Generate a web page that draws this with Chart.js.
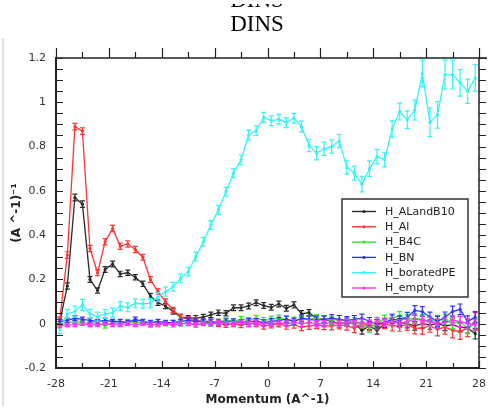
<!DOCTYPE html>
<html>
<head>
<meta charset="utf-8">
<title>DINS</title>
<script src="https://cdn.jsdelivr.net/npm/chart.js@4.4.1/dist/chart.umd.min.js"></script>
<style>
  html, body { margin: 0; padding: 0; background: #fff; }
  #wrap { width: 500px; height: 418px; }
</style>
</head>
<body>
<div id="wrap"><canvas id="dinsChart" width="500" height="418"></canvas></div>
<script>
// =============================================================================
// DATA
// =============================================================================
const momentum = [
  -27.5, -26.5, -25.5, -24.5, -23.5, -22.5, -21.5, -20.5, -19.5, -18.5,
  -17.5, -16.5, -15.5, -14.5, -13.5, -12.5, -11.5, -10.5, -9.5, -8.5,
  -7.5, -6.5, -5.5, -4.5, -3.5, -2.5, -1.5, -0.5, 0.5, 1.5,
  2.5, 3.5, 4.5, 5.5, 6.5, 7.5, 8.5, 9.5, 10.5, 11.5,
  12.5, 13.5, 14.5, 15.5, 16.5, 17.5, 18.5, 19.5, 20.5, 21.5,
  22.5, 23.5, 24.5, 25.5, 26.5, 27.5
];

const hALandB10 = [
  0.01, 0.17, 0.57, 0.54, 0.20, 0.15, 0.245, 0.27, 0.225, 0.23,
  0.21, 0.18, 0.125, 0.095, 0.08, 0.055, 0.03, 0.025, 0.025, 0.03,
  0.04, 0.05, 0.047, 0.072, 0.072, 0.08, 0.095, 0.082, 0.074, 0.089,
  0.07, 0.085, 0.045, 0.05, 0.024, 0.02, 0.01, 0.0, 0.005, 0.0,
  -0.03, -0.01, -0.03, 0.0, 0.01, 0.005, 0.0, -0.01, 0.0, -0.005,
  0.0, -0.01, -0.005, -0.015, -0.02, -0.045
];
const hALandB10Err = [
  0.01, 0.014, 0.015, 0.015, 0.013, 0.012, 0.013, 0.013, 0.012, 0.012,
  0.012, 0.012, 0.012, 0.012, 0.012, 0.012, 0.012, 0.012, 0.012, 0.012,
  0.012, 0.012, 0.012, 0.013, 0.013, 0.013, 0.013, 0.013, 0.013, 0.013,
  0.013, 0.014, 0.014, 0.014, 0.015, 0.015, 0.015, 0.016, 0.016, 0.016,
  0.017, 0.017, 0.017, 0.018, 0.018, 0.018, 0.019, 0.019, 0.02, 0.02,
  0.02, 0.021, 0.021, 0.022, 0.022, 0.024
];

const hAl = [
  0.02, 0.31, 0.89, 0.87, 0.34, 0.23, 0.37, 0.43, 0.35, 0.36,
  0.335, 0.30, 0.20, 0.145, 0.10, 0.062, 0.03, 0.02, 0.015, 0.01,
  0.005, 0.0, -0.005, 0.0, -0.005, 0.0, 0.0, -0.01, -0.005, 0.0,
  -0.01, -0.005, -0.015, -0.01, -0.005, -0.01, -0.01, -0.005, -0.01, -0.02,
  0.0, -0.01, -0.005, 0.0, -0.01, -0.01, -0.005, -0.02, -0.02, -0.01,
  -0.025, -0.015, -0.03, -0.035, -0.02, 0.01
];
const hAlErr = [
  0.01, 0.015, 0.015, 0.015, 0.014, 0.013, 0.014, 0.014, 0.014, 0.014,
  0.014, 0.013, 0.013, 0.012, 0.012, 0.012, 0.012, 0.012, 0.012, 0.012,
  0.012, 0.012, 0.012, 0.013, 0.013, 0.013, 0.013, 0.014, 0.014, 0.014,
  0.015, 0.015, 0.016, 0.016, 0.017, 0.017, 0.018, 0.018, 0.019, 0.02,
  0.02, 0.021, 0.022, 0.022, 0.023, 0.024, 0.025, 0.026, 0.027, 0.028,
  0.03, 0.032, 0.034, 0.036, 0.038, 0.04
];

const hB4C = [
  0.0, 0.005, 0.01, 0.005, 0.0, 0.005, -0.01, 0.005, 0.0, 0.01,
  0.005, 0.005, -0.005, 0.0, 0.0, 0.005, 0.0, 0.005, -0.005, 0.005,
  0.0, 0.01, 0.015, 0.01, 0.02, 0.015, 0.025, 0.015, 0.02, 0.025,
  0.02, 0.015, 0.02, 0.02, 0.025, 0.02, 0.015, 0.02, 0.01, 0.01,
  0.0, -0.02, 0.01, 0.02, 0.025, 0.035, 0.02, 0.025, 0.02, 0.01,
  0.015, 0.02, 0.0, 0.01, -0.02, 0.0
];
const hB4CErr = [
  0.01, 0.01, 0.01, 0.01, 0.01, 0.01, 0.01, 0.01, 0.01, 0.01,
  0.01, 0.01, 0.01, 0.01, 0.01, 0.01, 0.011, 0.011, 0.011, 0.011,
  0.012, 0.012, 0.012, 0.012, 0.013, 0.013, 0.013, 0.013, 0.014, 0.014,
  0.014, 0.015, 0.015, 0.015, 0.016, 0.016, 0.016, 0.017, 0.017, 0.017,
  0.018, 0.018, 0.019, 0.019, 0.02, 0.02, 0.021, 0.021, 0.022, 0.022,
  0.023, 0.023, 0.024, 0.024, 0.025, 0.025
];

const hBN = [
  0.01, 0.015, 0.025, 0.02, 0.015, 0.01, 0.015, 0.01, 0.01, 0.005,
  0.02, 0.01, 0.005, 0.01, 0.005, 0.005, 0.01, 0.015, 0.01, 0.01,
  0.01, 0.005, 0.01, 0.01, 0.005, 0.01, 0.01, 0.005, 0.01, 0.015,
  0.02, 0.01, 0.025, 0.02, 0.015, 0.02, 0.025, 0.02, 0.015, 0.02,
  0.025, 0.01, 0.0, 0.005, 0.02, 0.015, 0.03, 0.06, 0.055, 0.03,
  0.01, 0.03, 0.055, 0.065, 0.01, 0.03
];
const hBNErr = [
  0.01, 0.01, 0.01, 0.01, 0.01, 0.01, 0.01, 0.01, 0.01, 0.01,
  0.01, 0.01, 0.01, 0.01, 0.01, 0.01, 0.011, 0.011, 0.011, 0.011,
  0.012, 0.012, 0.012, 0.012, 0.013, 0.013, 0.013, 0.013, 0.014, 0.014,
  0.014, 0.015, 0.015, 0.015, 0.016, 0.016, 0.016, 0.017, 0.017, 0.017,
  0.018, 0.018, 0.019, 0.019, 0.02, 0.02, 0.021, 0.022, 0.022, 0.022,
  0.023, 0.023, 0.024, 0.024, 0.025, 0.025
];

const hBoratedPE = [
  -0.025, 0.045, 0.055, 0.085, 0.045, 0.032, 0.044, 0.05, 0.08, 0.074,
  0.092, 0.09, 0.093, 0.12, 0.145, 0.167, 0.205, 0.235, 0.303, 0.37,
  0.446, 0.514, 0.596, 0.68, 0.74, 0.852, 0.872, 0.932, 0.917, 0.923,
  0.908, 0.928, 0.89, 0.805, 0.77, 0.79, 0.8, 0.825, 0.706, 0.68,
  0.63, 0.70, 0.755, 0.74, 0.88, 0.958, 0.921, 0.965, 1.13, 0.91,
  0.943, 1.125, 1.125, 1.088, 1.05, 1.11
];
const hBoratedPEErr = [
  0.02, 0.02, 0.025, 0.025, 0.02, 0.02, 0.02, 0.02, 0.02, 0.02,
  0.02, 0.02, 0.02, 0.02, 0.02, 0.02, 0.02, 0.02, 0.02, 0.02,
  0.02, 0.02, 0.02, 0.02, 0.022, 0.022, 0.022, 0.022, 0.022, 0.022,
  0.022, 0.022, 0.025, 0.028, 0.03, 0.03, 0.03, 0.03, 0.03, 0.032,
  0.035, 0.035, 0.032, 0.032, 0.036, 0.038, 0.04, 0.045, 0.06, 0.065,
  0.06, 0.065, 0.065, 0.06, 0.055, 0.06
];

const hEmpty = [
  -0.01, -0.005, -0.005, 0.0, -0.005, -0.005, 0.0, -0.005, -0.005, 0.0,
  -0.005, 0.0, -0.005, -0.005, 0.0, -0.005, 0.0, 0.0, -0.005, 0.0,
  0.0, 0.005, 0.0, 0.0, 0.005, 0.0, 0.005, 0.0, 0.0, 0.005,
  0.0, 0.005, 0.0, 0.005, 0.0, 0.0, 0.005, 0.0, 0.005, 0.0,
  0.005, 0.0, 0.01, 0.005, 0.01, 0.0, 0.01, 0.02, 0.015, 0.01,
  0.0, 0.005, 0.015, 0.01, 0.0, -0.005
];
const hEmptyErr = [
  0.008, 0.008, 0.008, 0.008, 0.008, 0.008, 0.008, 0.008, 0.008, 0.008,
  0.008, 0.008, 0.008, 0.008, 0.008, 0.009, 0.009, 0.009, 0.009, 0.009,
  0.01, 0.01, 0.01, 0.01, 0.011, 0.011, 0.011, 0.011, 0.012, 0.012,
  0.012, 0.013, 0.013, 0.013, 0.014, 0.014, 0.014, 0.015, 0.015, 0.015,
  0.016, 0.016, 0.017, 0.017, 0.018, 0.018, 0.019, 0.019, 0.02, 0.02,
  0.021, 0.021, 0.022, 0.022, 0.023, 0.023
];

const seriesNames = ["H_ALandB10", "H_Al", "H_B4C", "H_BN", "H_boratedPE", "H_empty"];
const seriesValues = [hALandB10, hAl, hB4C, hBN, hBoratedPE, hEmpty];
const seriesErrors = [hALandB10Err, hAlErr, hB4CErr, hBNErr, hBoratedPEErr, hEmptyErr];

// =============================================================================
// STYLE
// =============================================================================
const seriesColors = ["#2b2b2b", "#ff3333", "#33e633", "#3333ff", "#33f5f5", "#ff33ff"];
const TICK_FONT = { family: "'DejaVu Sans', Verdana, sans-serif", size: 11 };
const AXIS_COLOR = "#222222";

// =============================================================================
// PLUGIN: error bars
// =============================================================================
const errorBars = {
  id: "errorBars",
  afterDatasetDraw(chart, args) {
    const ds = chart.data.datasets[args.index];
    const yScale = chart.scales.y;
    const area = chart.chartArea;
    const ctx = chart.ctx;
    ctx.save();
    ctx.beginPath();
    ctx.rect(area.left, area.top, area.right - area.left, area.bottom - area.top);
    ctx.clip();
    ctx.strokeStyle = ds.borderColor;
    ctx.lineWidth = 1.2;
    args.meta.data.forEach((pt, i) => {
      const v = ds.data[i].y;
      const e = ds.errors[i];
      const yTop = yScale.getPixelForValue(v + e);
      const yBot = yScale.getPixelForValue(v - e);
      ctx.beginPath();
      ctx.moveTo(pt.x, yTop);
      ctx.lineTo(pt.x, yBot);
      ctx.moveTo(pt.x - 2.5, yTop);
      ctx.lineTo(pt.x + 2.5, yTop);
      ctx.moveTo(pt.x - 2.5, yBot);
      ctx.lineTo(pt.x + 2.5, yBot);
      ctx.stroke();
    });
    ctx.restore();
  }
};

// =============================================================================
// PLUGIN: frame, ticks, title, legend
// =============================================================================
const frameDecor = {
  id: "frameDecor",
  afterDraw(chart) {
    const ctx = chart.ctx;
    const a = chart.chartArea;
    const xs = chart.scales.x;
    const ys = chart.scales.y;
    ctx.save();

    // outer light frame on the left
    ctx.strokeStyle = "#d4d4d4";
    ctx.lineWidth = 1.5;
    ctx.beginPath();
    ctx.moveTo(3, 38);
    ctx.lineTo(3, 406);
    ctx.stroke();

    // title
    ctx.fillStyle = "#000";
    ctx.font = "23px 'Liberation Serif', 'Times New Roman', serif";
    ctx.textAlign = "center";
    ctx.textBaseline = "alphabetic";
    ctx.fillText("DINS", 257, 31);
    // only the bottom sliver of the copy above remains visible
    ctx.save();
    ctx.beginPath();
    ctx.rect(0, 4, 500, 4);
    ctx.clip();
    ctx.fillText("DINS", 257, 7);
    ctx.restore();

    // top and right borders
    ctx.strokeStyle = AXIS_COLOR;
    ctx.lineWidth = 1.5;
    ctx.beginPath();
    ctx.moveTo(a.left, a.top);
    ctx.lineTo(a.right + 8, a.top);
    ctx.moveTo(a.right, a.top);
    ctx.lineTo(a.right, a.bottom);
    ctx.stroke();

    // y ticks: inside on the left, outside on the right
    ctx.lineWidth = 1.2;
    ctx.beginPath();
    for (let v = ys.min; v <= ys.max + 1e-9; v += 0.05) {
      const py = Math.round(ys.getPixelForValue(v)) + 0.5;
      ctx.moveTo(a.left, py);
      ctx.lineTo(a.left + 7, py);
      ctx.moveTo(a.right, py);
      ctx.lineTo(a.right + 7, py);
    }
    // x ticks: outside on top, inside at the bottom
    for (let v = xs.min; v <= xs.max + 1e-9; v += 3.5) {
      const major = Math.abs(v / 7 - Math.round(v / 7)) < 1e-6;
      const px = Math.round(xs.getPixelForValue(v)) + 0.5;
      ctx.moveTo(px, a.top);
      ctx.lineTo(px, a.top - (major ? 10 : 6));
      ctx.moveTo(px, a.bottom);
      ctx.lineTo(px, a.bottom - (major ? 7 : 5));
    }
    ctx.stroke();

    // legend box
    const lx = 342, ly = 199, lw = 126, lh = 98;
    ctx.fillStyle = "#fff";
    ctx.fillRect(lx, ly, lw, lh);
    ctx.strokeStyle = "#333";
    ctx.lineWidth = 1.5;
    ctx.strokeRect(lx, ly, lw, lh);
    ctx.font = "11px 'DejaVu Sans', Verdana, sans-serif";
    ctx.textAlign = "left";
    ctx.textBaseline = "middle";
    chart.data.datasets.forEach((ds, i) => {
      const rowY = ly + 12.5 + i * 15.3;
      ctx.strokeStyle = ds.borderColor;
      ctx.lineWidth = 1.4;
      ctx.beginPath();
      ctx.moveTo(lx + 10, rowY);
      ctx.lineTo(lx + 34, rowY);
      ctx.stroke();
      ctx.fillStyle = ds.borderColor;
      ctx.beginPath();
      ctx.arc(lx + 22, rowY, 1.6, 0, Math.PI * 2);
      ctx.fill();
      ctx.fillStyle = "#222";
      ctx.fillText(ds.label, lx + 43, rowY + 0.5);
    });

    ctx.restore();
  }
};

// =============================================================================
// CHART
// =============================================================================
const datasets = seriesNames.map((name, s) => ({
  label: name,
  data: momentum.map((m, i) => ({ x: m, y: seriesValues[s][i] })),
  errors: seriesErrors[s],
  borderColor: seriesColors[s],
  backgroundColor: seriesColors[s],
  borderWidth: 1.3,
  pointRadius: 1.6,
  pointBorderWidth: 0,
  tension: 0,
  fill: false,
  order: 6 - s
}));

new Chart(document.getElementById("dinsChart").getContext("2d"), {
  type: "line",
  data: { datasets },
  options: {
    responsive: false,
    animation: false,
    layout: { padding: { top: 58, right: 21, left: 0, bottom: 0 } },
    plugins: {
      legend: { display: false },
      tooltip: { enabled: false },
      title: { display: false }
    },
    scales: {
      x: {
        type: "linear",
        min: -28,
        max: 28,
        afterFit(scale) { scale.height = 50; },
        ticks: {
          stepSize: 7,
          color: "#333",
          font: TICK_FONT,
          padding: 10,
          maxRotation: 0,
          callback: v => String(v)
        },
        grid: { display: false, drawTicks: false },
        border: { display: true, color: AXIS_COLOR, width: 2 },
        title: {
          display: true,
          text: "Momentum (A^-1)",
          color: "#222",
          font: { family: "'DejaVu Sans', Verdana, sans-serif", size: 12, weight: "bold" },
          padding: { top: 2, bottom: 11 }
        }
      },
      y: {
        type: "linear",
        min: -0.2,
        max: 1.2,
        afterFit(scale) { scale.width = 56; },
        ticks: {
          stepSize: 0.2,
          color: "#333",
          font: TICK_FONT,
          padding: 10,
          callback: v => String(Math.round(v * 100) / 100)
        },
        grid: { display: false, drawTicks: false },
        border: { display: true, color: AXIS_COLOR, width: 2 },
        title: {
          display: true,
          text: "(A ^-1)\u207B\u00B9",
          color: "#222",
          font: { family: "'DejaVu Sans', Verdana, sans-serif", size: 12, weight: "bold" },
          padding: { top: 10, bottom: 0 }
        }
      }
    }
  },
  plugins: [errorBars, frameDecor]
});
</script>
</body>
</html>
